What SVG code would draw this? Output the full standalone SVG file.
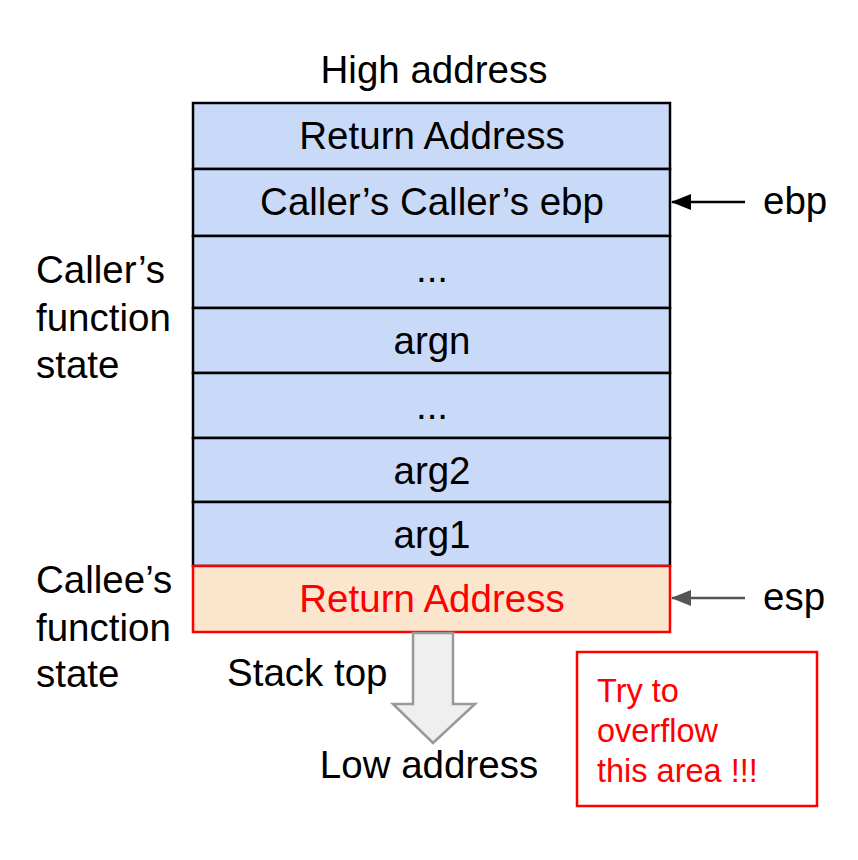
<svg xmlns="http://www.w3.org/2000/svg" width="858" height="860" viewBox="0 0 858 860">
<defs>
<style>
text{font-family:"Liberation Sans",Arial,sans-serif;font-size:38.5px;fill:#000}
.c{text-anchor:middle}
.red{fill:#ff0000}
.note{font-size:32.5px}
.cell{fill:#c9daf8;stroke:#000;stroke-width:2.5}
</style>
<marker id="ah" markerWidth="20" markerHeight="16" refX="19" refY="8" orient="auto" markerUnits="userSpaceOnUse" viewBox="0 0 20 16">
<path d="M0,0 L20,8 L0,16 z" fill="#000"/>
</marker>
<marker id="ahg" markerWidth="20" markerHeight="16" refX="19" refY="8" orient="auto" markerUnits="userSpaceOnUse" viewBox="0 0 20 16">
<path d="M0,0 L20,8 L0,16 z" fill="#555"/>
</marker>
</defs>
<rect width="858" height="860" fill="#fff"/>
<text class="c" x="434" y="83">High address</text>
<g id="ret-caller"><rect class="cell" x="193" y="103" width="477" height="66"/><text class="c" x="432" y="149">Return Address</text></g>
<g id="caller-ebp"><rect class="cell" x="193" y="169" width="477" height="67"/><text class="c" x="432" y="215">Caller’s Caller’s ebp</text></g>
<g id="dots1"><rect class="cell" x="193" y="236" width="477" height="72"/><text class="c" x="432" y="282">...</text></g>
<g id="argn"><rect class="cell" x="193" y="308" width="477" height="65"/><text class="c" x="432" y="354">argn</text></g>
<g id="dots2"><rect class="cell" x="193" y="373" width="477" height="65"/><text class="c" x="432" y="419">...</text></g>
<g id="arg2"><rect class="cell" x="193" y="438" width="477" height="64"/><text class="c" x="432" y="484">arg2</text></g>
<g id="arg1"><rect class="cell" x="193" y="502" width="477" height="64"/><text class="c" x="432" y="548">arg1</text></g>
<g id="ret-callee"><rect x="193" y="566" width="477" height="66" fill="#fce5cd" stroke="#ff0000" stroke-width="2.5"/><text class="c red" x="432" y="612">Return Address</text></g>
<g id="caller-label"><text x="36" y="283">Caller’s</text><text x="36" y="331">function</text><text x="36" y="378">state</text></g>
<g id="callee-label"><text x="36" y="593">Callee’s</text><text x="36" y="641">function</text><text x="36" y="687">state</text></g>
<g id="stack-arrow"><path d="M413,633 L453,633 L453,704 L475,704 L433,743 L393,704 L413,704 Z" fill="#efefef" stroke="#999" stroke-width="2.5" stroke-linejoin="miter"/></g>
<text x="227" y="686">Stack top</text>
<text class="c" x="429" y="778">Low address</text>
<g id="ebp-label"><text x="763" y="214">ebp</text></g>
<g id="esp-label"><text x="763" y="610">esp</text></g>
<g id="overflow-note"><rect x="577" y="652" width="240" height="154" fill="#fff" stroke="#ff0000" stroke-width="2.5"/>
<text class="red note" x="597" y="702">Try to</text>
<text class="red note" x="597" y="742">overflow</text>
<text class="red note" x="597" y="782">this area !!!</text></g>
<g id="connectors">
<line x1="745" y1="202" x2="672" y2="202" stroke="#000" stroke-width="2.5" marker-end="url(#ah)"/>
<line x1="745" y1="598" x2="672" y2="598" stroke="#555" stroke-width="2.5" marker-end="url(#ahg)"/>
</g>
</svg>
